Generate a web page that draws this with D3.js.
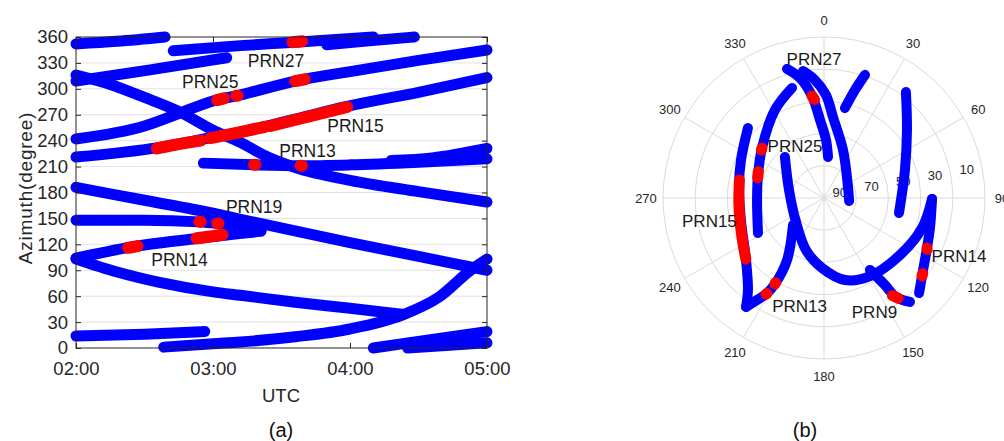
<!DOCTYPE html>
<html>
<head>
<meta charset="utf-8">
<script src="https://cdn.jsdelivr.net/npm/d3@7"></script>
<style>
  body { margin: 0; background: #fff; }
  svg { display: block; }
  text { font-family: "Liberation Sans", Arial, Helvetica, sans-serif; }
</style>
</head>
<body>
<svg id="chart" width="1004" height="441"></svg>
<script>
// ---------- (a) azimuth versus time: [UTC hour, azimuth deg] ----------
const timeTicks = [2, 3, 4, 5];
const timeTickLabels = ["02:00", "03:00", "04:00", "05:00"];
const azimuthTicks = [0, 30, 60, 90, 120, 150, 180, 210, 240, 270, 300, 330, 360];

const trackTopLeft   = [[2.0, 352], [2.3, 355], [2.65, 360]];
const trackPRN27     = [[2.71, 344], [3.2, 350], [3.6, 354], [4.17, 360]];
const trackTopRight  = [[3.83, 351], [4.1, 355], [4.47, 360]];
const trackUpper     = [[2.0, 309], [2.54, 322], [3.1, 336]];
const trackFalling   = [[2.0, 316], [2.25, 305], [2.5, 290], [2.76, 273], [3.0, 252], [3.2, 238], [3.4, 221], [3.6, 209], [4.0, 194], [4.5, 181], [5.0, 169]];
const trackPRN25     = [[2.0, 242], [2.5, 257], [2.76, 272], [3.0, 286], [3.2, 293], [3.6, 309], [4.0, 320], [4.5, 333], [5.0, 345]];
const trackPRN15     = [[2.0, 221], [2.6, 232], [3.0, 244], [3.2, 250], [3.6, 265], [3.96, 279], [4.5, 296], [5.0, 313]];
const trackPRN13     = [[2.93, 214], [3.3, 212], [3.64, 211], [4.0, 212], [4.5, 215], [5.0, 219]];
const trackPRN13b    = [[4.3, 217], [4.6, 220], [5.0, 231]];
const trackDiagonal  = [[2.0, 186], [2.5, 171], [3.0, 156], [3.2, 149], [4.0, 122], [4.5, 106], [5.0, 90]];
const trackPRN19     = [[2.0, 148], [2.5, 148], [2.9, 146], [3.03, 144], [3.2, 140], [3.35, 136]];
const trackPRN14     = [[2.0, 104], [2.41, 117], [2.9, 127], [3.05, 130], [3.35, 135]];
const trackDescend   = [[2.0, 103], [2.3, 88], [2.61, 76], [3.0, 65], [3.2, 61], [3.6, 53], [4.0, 46], [4.38, 39]];
const trackRising    = [[2.64, 1], [3.0, 5], [3.2, 7], [3.6, 13], [4.0, 22], [4.38, 38], [4.65, 59], [4.88, 90], [5.0, 103]];
const trackLowLeft   = [[2.0, 14], [2.5, 16], [2.94, 19]];
const trackLowRightA = [[4.17, 0], [4.6, 10], [5.0, 19]];
const trackLowRightB = [[4.42, 0], [4.7, 3], [5.0, 6]];

// flagged epochs (red)
const flagsA = [
  [[3.58, 354], [3.65, 355]],
  [[3.03, 287], [3.08, 289]],
  [[3.17, 292], [3.18, 292]],
  [[3.6, 309], [3.67, 311]],
  [[2.59, 231], [2.75, 236], [2.91, 240]],
  [[2.98, 243], [3.2, 250], [3.38, 256]],
  [[3.42, 257], [3.7, 268], [3.98, 279]],
  [[3.3, 212], [3.31, 212]],
  [[3.64, 211], [3.65, 211]],
  [[2.9, 146], [2.91, 146]],
  [[3.03, 144], [3.04, 144]],
  [[2.38, 116], [2.45, 118]],
  [[2.88, 127], [3.07, 131]]
];

const labelsA = [
  { text: "PRN27", t: 3.46, az: 325 },
  { text: "PRN25", t: 2.98, az: 301 },
  { text: "PRN15", t: 4.04, az: 250 },
  { text: "PRN13", t: 3.69, az: 221 },
  { text: "PRN19", t: 3.30, az: 156 },
  { text: "PRN14", t: 2.755, az: 95 }
];

// ---------- (b) skyplot: [azimuth deg, elevation deg] ----------
const azimuthLabels = [0, 30, 60, 90, 120, 150, 180, 210, 240, 270, 300, 330];
const ringElevations = [0, 20, 40, 60, 80];
const ringLabels = [10, 30, 50, 70, 90];

const skyPRN27a = [[344.0, 16.6], [348.7, 24.0], [353.3, 36.2], [357.1, 51.5], [2.0, 64.0], [5.6, 74.4]];
const skyPRN27b = [[350.6, 20.1], [355.6, 26.5], [1.1, 36.0], [6.3, 49.4], [21.6, 67.9], [65.4, 83.6], [96.8, 84.3]];
const skyShortNE = [[18.4, 19.4], [16.0, 30.2], [13.1, 42.6]];
const skyEast   = [[37.7, 16.8], [50.7, 33.4], [70.9, 46.8], [101.3, 52.5]];
const skyPRN14  = [[90.5, 32.9], [105.8, 31.6], [115.9, 28.9], [128.5, 22.2], [135.0, 16.5]];
const skyPRN9   = [[147.4, 47.0], [145.0, 34.0], [144.0, 24.0], [140.4, 16.2]];
const skyPRN15  = [[312.6, 35.8], [294.6, 43.3], [278.7, 46.6], [255.2, 46.6], [231.5, 38.1], [219.6, 25.9], [215.6, 16.8]];
const skyPRN25  = [[343.8, 28.8], [330.9, 37.4], [308.9, 50.5], [289.2, 56.6], [268.3, 58.4], [242.1, 53.6]];
const skyPRN13  = [[215.6, 16.8], [213.3, 24.2], [211.1, 30.3], [209.7, 38.5], [210.8, 55.2], [229.0, 74.5]];
const skyLoop   = [[316.4, 64.8], [282.9, 77.7], [229.4, 77.1], [199.1, 65.8], [181.6, 56.5], [165.6, 47.4], [149.5, 43.7], [126.9, 41.0], [107.0, 36.3], [90.5, 32.9]];

const flagsB = [
  [[353.3, 36.2], [354.5, 38.5]],
  [[127.5, 22.8], [128.5, 22.2]],
  [[115.9, 28.9], [116.5, 28.4]],
  [[145.0, 26.0], [143.5, 22.5]],
  [[282.0, 46.3], [266.0, 47.0], [253.0, 45.6], [240.0, 42.0], [232.0, 38.4]],
  [[308.9, 50.5], [307.5, 51.0]],
  [[292.0, 56.0], [287.0, 56.9]],
  [[211.1, 30.3], [210.9, 30.8]],
  [[209.7, 38.5], [209.8, 39.5]]
];

const labelsB = [
  { text: "PRN27", az: 355.7, el: 17.1 },
  { text: "PRN25", az: 327.8, el: 66.2 },
  { text: "PRN15", az: 255.8, el: 26.6 },
  { text: "PRN13", az: 192.1, el: 27.6 },
  { text: "PRN9",  az: 157.2, el: 19.1 },
  { text: "PRN14", az: 115.4, el: 7.2 }
];

// ---------- drawing ----------
const svg = d3.select("#chart");
svg.append("rect").attr("width", 1004).attr("height", 441).attr("fill", "#fff");

const BLUE = "#0000ff", RED = "#ff0000", AXIS = "#262626", GRID = "#e1e1e1";

// panel (a)
const x = d3.scaleLinear().domain([2, 5]).range([76, 487]);
const y = d3.scaleLinear().domain([0, 360]).range([348, 37]);
const gA = svg.append("g");

gA.append("g").selectAll("line")
  .data(azimuthTicks.slice(1, -1))
  .join("line")
  .attr("x1", x(2)).attr("x2", x(5))
  .attr("y1", d => y(d)).attr("y2", d => y(d))
  .attr("stroke", GRID).attr("stroke-width", 1);

const lineA = d3.line().x(d => x(d[0])).y(d => y(d[1])).curve(d3.curveMonotoneX);
const tracksA = [trackTopLeft, trackPRN27, trackTopRight, trackUpper, trackFalling, trackPRN25, trackPRN15,
  trackPRN13, trackPRN13b, trackDiagonal, trackPRN19, trackPRN14, trackDescend, trackRising,
  trackLowLeft, trackLowRightA, trackLowRightB];

gA.append("g").selectAll("path").data(tracksA).join("path")
  .attr("d", lineA).attr("fill", "none").attr("stroke", BLUE)
  .attr("stroke-width", 11).attr("stroke-linecap", "round").attr("stroke-linejoin", "round");
gA.append("g").selectAll("path").data(flagsA).join("path")
  .attr("d", lineA).attr("fill", "none").attr("stroke", RED)
  .attr("stroke-width", 12).attr("stroke-linecap", "round").attr("stroke-linejoin", "round");

// axes box with inward ticks
const styleAxis = g => {
  g.select(".domain").remove();
  g.selectAll(".tick line").attr("stroke", AXIS);
  g.selectAll(".tick text").attr("fill", AXIS).attr("font-size", 18.5)
    .attr("font-family", '"Liberation Sans", Arial, sans-serif');
};
gA.append("g").attr("transform", `translate(${x(2)},0)`)
  .call(d3.axisLeft(y).tickValues(azimuthTicks).tickSizeInner(-5).tickSizeOuter(0).tickPadding(8))
  .call(styleAxis);
gA.append("g").attr("transform", `translate(${x(5)},0)`)
  .call(d3.axisRight(y).tickValues(azimuthTicks).tickSizeInner(-5).tickSizeOuter(0).tickFormat(""))
  .call(styleAxis);
gA.append("g").attr("transform", `translate(0,${y(0)})`)
  .call(d3.axisBottom(x).tickValues(timeTicks).tickSizeInner(-5).tickSizeOuter(0).tickPadding(14)
    .tickFormat((d, i) => timeTickLabels[i]))
  .call(styleAxis);
gA.append("g").attr("transform", `translate(0,${y(360)})`)
  .call(d3.axisTop(x).tickValues(timeTicks).tickSizeInner(-5).tickSizeOuter(0).tickFormat(""))
  .call(styleAxis);
gA.append("rect").attr("x", x(2)).attr("y", y(360)).attr("width", x(5) - x(2)).attr("height", y(0) - y(360))
  .attr("fill", "none").attr("stroke", AXIS).attr("stroke-width", 1);

gA.append("g").selectAll("text").data(labelsA).join("text")
  .attr("x", d => x(d.t)).attr("y", d => y(d.az))
  .attr("text-anchor", "middle").attr("font-size", 17.5).attr("fill", "#1a1a1a")
  .text(d => d.text);

gA.append("text").attr("transform", "translate(32,188) rotate(-90)")
  .attr("text-anchor", "middle").attr("font-size", 19).attr("letter-spacing", 0.8)
  .attr("fill", AXIS).text("Azimuth(degree)");
gA.append("text").attr("x", 281).attr("y", 402).attr("text-anchor", "middle")
  .attr("font-size", 18.5).attr("fill", AXIS).text("UTC");
svg.append("text").attr("x", 281).attr("y", 437).attr("text-anchor", "middle")
  .attr("font-family", '"Liberation Serif", "DejaVu Serif", serif').attr("font-size", 20)
  .attr("fill", "#111").text("(a)");
svg.append("text").attr("x", 805).attr("y", 437).attr("text-anchor", "middle")
  .attr("font-family", '"Liberation Serif", "DejaVu Serif", serif').attr("font-size", 20)
  .attr("fill", "#111").text("(b)");

// panel (b)
const cx = 824, cy = 198;
const r = d3.scaleLinear().domain([100, 0]).range([0, 161]);
const project = (az, el) => {
  const a = az * Math.PI / 180, rr = r(el);
  return [cx + rr * Math.sin(a), cy - rr * Math.cos(a)];
};
const gB = svg.append("g");

gB.append("g").selectAll("circle").data(ringElevations).join("circle")
  .attr("cx", cx).attr("cy", cy).attr("r", d => r(d))
  .attr("fill", "none").attr("stroke", "#dadada").attr("stroke-width", 1);
gB.append("g").selectAll("line").data(azimuthLabels).join("line")
  .attr("x1", cx).attr("y1", cy)
  .attr("x2", d => project(d, 0)[0]).attr("y2", d => project(d, 0)[1])
  .attr("stroke", "#dadada").attr("stroke-width", 1);

gB.append("g").selectAll("text").data(azimuthLabels).join("text")
  .attr("x", d => cx + 178 * Math.sin(d * Math.PI / 180))
  .attr("y", d => cy - 178 * Math.cos(d * Math.PI / 180))
  .attr("text-anchor", "middle").attr("dominant-baseline", "central")
  .attr("font-size", 13).attr("fill", AXIS).text(d => d);
gB.append("g").selectAll("text").data(ringLabels).join("text")
  .attr("x", d => project(80, d)[0]).attr("y", d => project(80, d)[1] - 3)
  .attr("text-anchor", "middle").attr("dominant-baseline", "central")
  .attr("font-size", 13).attr("fill", AXIS).text(d => d);

const lineB = d3.line().x(d => project(d[0], d[1])[0]).y(d => project(d[0], d[1])[1]).curve(d3.curveCatmullRom);
const tracksB = [skyPRN27a, skyPRN27b, skyShortNE, skyEast, skyPRN14, skyPRN9, skyPRN15, skyPRN25, skyPRN13, skyLoop];
gB.append("g").selectAll("path").data(tracksB).join("path")
  .attr("d", lineB).attr("fill", "none").attr("stroke", BLUE)
  .attr("stroke-width", 10).attr("stroke-linecap", "round").attr("stroke-linejoin", "round");
gB.append("g").selectAll("path").data(flagsB).join("path")
  .attr("d", lineB).attr("fill", "none").attr("stroke", RED)
  .attr("stroke-width", 11).attr("stroke-linecap", "round").attr("stroke-linejoin", "round");

gB.append("g").selectAll("text").data(labelsB).join("text")
  .attr("x", d => project(d.az, d.el)[0]).attr("y", d => project(d.az, d.el)[1])
  .attr("text-anchor", "middle").attr("font-size", 17).attr("fill", "#1a1a1a")
  .text(d => d.text);
</script>
</body>
</html>
